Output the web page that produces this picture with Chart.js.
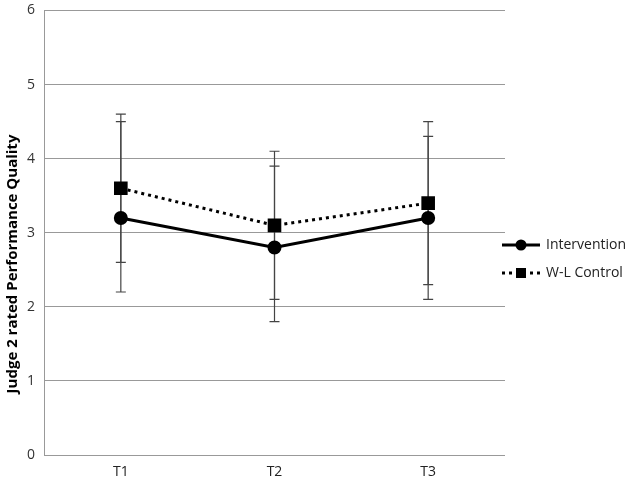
<!DOCTYPE html>
<html>
<head>
<meta charset="utf-8">
<script src="https://cdn.jsdelivr.net/npm/chart.js@4"></script>
<style>
  html, body { margin: 0; padding: 0; background: #fff; }
  #wrap { width: 630px; height: 483px; }
</style>
</head>
<body>
<div id="wrap"><canvas id="perfChart" width="630" height="483"></canvas></div>
<script>
// data
const timePoints = ['T1', 'T2', 'T3'];
const interventionMeans = [3.2, 2.8, 3.2];
const interventionLow = [2.2, 1.8, 2.1];
const interventionHigh = [4.5, 3.9, 4.3];
const controlMeans = [3.6, 3.1, 3.4];
const controlLow = [2.6, 2.1, 2.3];
const controlHigh = [4.6, 4.1, 4.5];
const yTicks = [0, 1, 2, 3, 4, 5, 6];
const yTitle = 'Judge 2 rated Performance Quality';

const fontFamily = "'Open Sans', 'Noto Sans', sans-serif";

// error bars drawn through the chart's scales
const errorBars = {
    id: 'errorBars',
    beforeDatasetsDraw(chart) {
        const ctx = chart.ctx;
        const x = chart.scales.x;
        const y = chart.scales.y;
        chart.data.datasets.forEach(function(ds) {
            ds.data.forEach(function(v, i) {
                const px = x.getPixelForValue(i);
                const top = y.getPixelForValue(ds.errHigh[i]);
                const bot = y.getPixelForValue(ds.errLow[i]);
                ctx.save();
                ctx.strokeStyle = '#444';
                ctx.lineWidth = 1.2;
                ctx.beginPath();
                ctx.moveTo(px, top); ctx.lineTo(px, bot);
                ctx.moveTo(px - 5, top); ctx.lineTo(px + 5, top);
                ctx.moveTo(px - 5, bot); ctx.lineTo(px + 5, bot);
                ctx.stroke();
                ctx.restore();
            });
        });
    }
};

// y title, sitting a bit below the axis centre like the reference
const sideTitle = {
    id: 'sideTitle',
    afterDraw(chart) {
        const ctx = chart.ctx;
        ctx.save();
        ctx.translate(13, 264);
        ctx.rotate(-Math.PI / 2);
        ctx.font = 'bold 15px ' + fontFamily;
        ctx.fillStyle = '#000';
        ctx.textAlign = 'center';
        ctx.textBaseline = 'middle';
        ctx.fillText(yTitle, 0, 0);
        ctx.restore();
    }
};

// legend with line + marker sample, at the right
const sideLegend = {
    id: 'sideLegend',
    afterDraw(chart) {
        const ctx = chart.ctx;
        const rows = [245, 273];
        chart.data.datasets.forEach(function(ds, i) {
            const yy = rows[i];
            const x0 = 502, x1 = 540, xm = 521;
            ctx.save();
            ctx.strokeStyle = '#000';
            ctx.lineWidth = 3;
            ctx.setLineDash(ds.borderDash || []);
            ctx.beginPath();
            ctx.moveTo(x0, yy); ctx.lineTo(x1, yy);
            ctx.stroke();
            ctx.setLineDash([]);
            ctx.fillStyle = '#000';
            if (ds.pointStyle === 'rect') {
                ctx.fillRect(xm - 5, yy - 5, 10, 10);
            } else {
                ctx.beginPath();
                ctx.arc(xm, yy, 5.5, 0, Math.PI * 2);
                ctx.fill();
            }
            ctx.font = '14px ' + fontFamily;
            ctx.fillStyle = '#222';
            ctx.textBaseline = 'middle';
            ctx.fillText(ds.label, 546, yy);
            ctx.restore();
        });
    }
};

const ctx = document.getElementById('perfChart').getContext('2d');
new Chart(ctx, {
    type: 'line',
    data: {
        labels: timePoints,
        datasets: [{
            label: 'Intervention',
            data: interventionMeans,
            errLow: interventionLow,
            errHigh: interventionHigh,
            borderColor: '#000',
            backgroundColor: '#000',
            borderWidth: 3,
            pointStyle: 'circle',
            pointRadius: 5.5,
            pointHoverRadius: 5.5,
            tension: 0
        }, {
            label: 'W-L Control',
            data: controlMeans,
            errLow: controlLow,
            errHigh: controlHigh,
            borderColor: '#000',
            backgroundColor: '#000',
            borderWidth: 3,
            borderDash: [3, 4],
            pointStyle: 'rect',
            pointRadius: 7.5,
            pointHoverRadius: 7.5,
            tension: 0
        }]
    },
    options: {
        responsive: false,
        animation: false,
        layout: { padding: { top: 10, right: 125, bottom: 0, left: 0 } },
        plugins: {
            legend: { display: false },
            tooltip: { enabled: false }
        },
        scales: {
            x: {
                offset: true,
                grid: { display: false, drawTicks: false },
                border: { display: false },
                ticks: { color: '#222', font: { family: fontFamily, size: 14 }, padding: 9 },
                afterFit(scale) { scale.height = 28; }
            },
            y: {
                min: 0,
                max: 6,
                afterBuildTicks(scale) { scale.ticks = yTicks.map(function(v) { return { value: v }; }); },
                grid: { color: '#999', lineWidth: 1, drawTicks: false },
                border: { display: true, color: '#999', width: 1 },
                ticks: { color: '#333', font: { family: fontFamily, size: 14 }, padding: 9 },
                title: { display: false },
                afterFit(scale) {
                    scale.width = 44;
                    scale.paddingTop = 0;
                    scale.paddingBottom = 0;
                }
            }
        }
    },
    plugins: [errorBars, sideTitle, sideLegend]
});
</script>
</body>
</html>
